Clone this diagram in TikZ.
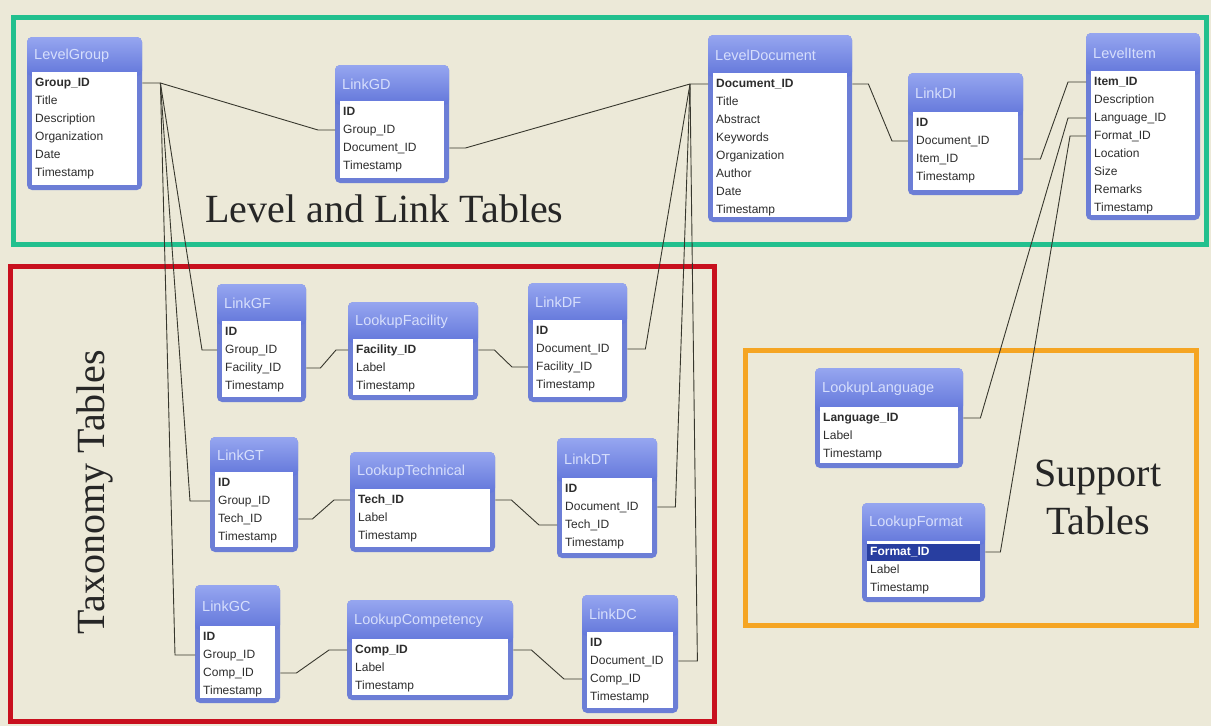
\documentclass[tikz,border=0pt]{standalone}
\usepackage{fontspec}
\setmainfont{Liberation Serif}
\setsansfont{Liberation Sans}
\usetikzlibrary{calc}
\definecolor{bg}{RGB}{236,233,216}
\definecolor{tframe}{RGB}{108,126,214}
\definecolor{htop}{RGB}{150,166,240}
\definecolor{hbot}{RGB}{98,118,218}
\definecolor{ttext}{RGB}{214,222,252}
\definecolor{ftext}{RGB}{45,45,45}
\definecolor{selblue}{RGB}{40,62,160}
\definecolor{grn}{RGB}{34,192,142}
\definecolor{rd}{RGB}{200,16,30}
\definecolor{org}{RGB}{245,165,35}
\definecolor{conn}{RGB}{55,55,45}
\tikzset{
 region/.style={draw, line width=5pt},
 ttitle/.style={anchor=west, inner sep=0pt, text=ttext, font=\sffamily\fontsize{14.5}{16}\selectfont},
 field/.style={anchor=west, inner xsep=8pt, inner ysep=0pt, text height=9pt, text depth=3pt, align=left, text=ftext, font=\sffamily\fontsize{12}{13}\selectfont},
 rel/.style={draw=conn, line width=0.9pt},
 biglabel/.style={font=\rmfamily\fontsize{40}{48}\selectfont, text=black!85, inner sep=0pt},
}
\newcommand\selfield[1]{\textcolor{white}{\textbf{#1}}}
\newcommand\selbar{\fill[selblue] (867,543.5) rectangle (980,560.5);}
% #1 extra code, #2 id, #3 x1, #4 y1, #5 x2, #6 y2, #7 header bottom, #8 title, #9 fields
\newcommand\dbtable[9][]{%
 \fill[tframe, rounded corners=5pt] (#3,#4) rectangle (#5,#6);
 \shade[top color=htop, bottom color=hbot, rounded corners=5pt] (#3,#4) rectangle (#5,#7+4);
 \fill[white] (#3+5,#7) rectangle (#5-5,#6-5);
 #1
 \node[ttitle] (#2) at (#3+7, {(#4+#7)/2+1}) {#8};
 \pgfmathsetmacro\tw{#5-#3-16}
 \foreach \f [count=\i] in {#9} {
   \node[field, text width=\tw pt] (#2-\i) at (#3, #7+11+18*\i-18) {\f};
 }
}
\begin{document}
\begin{tikzpicture}[x=1pt,y=-1pt]
\fill[bg] (0,0) rectangle (1211,726);
\useasboundingbox (0,0) rectangle (1211,726);

% regions
\draw[region, draw=grn] (13,17) rectangle (1206,244);
\draw[region, draw=rd] (10,266) rectangle (714,721);
\draw[region, draw=org] (745,350) rectangle (1196,625);

% tables
\dbtable{LG}{27}{37}{142}{190}{72}{LevelGroup}{\textbf{Group\_ID},Title,Description,Organization,Date,Timestamp}
\dbtable{LGD}{335}{65}{449}{183}{101}{LinkGD}{\textbf{ID},Group\_ID,Document\_ID,Timestamp}
\dbtable{LD}{708}{35}{852}{222}{73}{LevelDocument}{\textbf{Document\_ID},Title,Abstract,Keywords,Organization,Author,Date,Timestamp}
\dbtable{LDI}{908}{73}{1023}{195}{112}{LinkDI}{\textbf{ID},Document\_ID,Item\_ID,Timestamp}
\dbtable{LI}{1086}{33}{1200}{220}{71}{LevelItem}{\textbf{Item\_ID},Description,Language\_ID,Format\_ID,Location,Size,Remarks,Timestamp}

\dbtable{LGF}{217}{284}{306}{402}{321}{LinkGF}{\textbf{ID},Group\_ID,Facility\_ID,Timestamp}
\dbtable{LFa}{348}{302}{478}{400}{339}{LookupFacility}{\textbf{Facility\_ID},Label,Timestamp}
\dbtable{LDF}{528}{283}{627}{402}{320}{LinkDF}{\textbf{ID},Document\_ID,Facility\_ID,Timestamp}

\dbtable{LGT}{210}{437}{298}{552}{472}{LinkGT}{\textbf{ID},Group\_ID,Tech\_ID,Timestamp}
\dbtable{LTe}{350}{452}{495}{552}{489}{LookupTechnical}{\textbf{Tech\_ID},Label,Timestamp}
\dbtable{LDT}{557}{438}{657}{558}{478}{LinkDT}{\textbf{ID},Document\_ID,Tech\_ID,Timestamp}

\dbtable{LGC}{195}{585}{280}{703}{626}{LinkGC}{\textbf{ID},Group\_ID,Comp\_ID,Timestamp}
\dbtable{LCo}{347}{600}{513}{700}{639}{LookupCompetency}{\textbf{Comp\_ID},Label,Timestamp}
\dbtable{LDC}{582}{595}{678}{713}{632}{LinkDC}{\textbf{ID},Document\_ID,Comp\_ID,Timestamp}

\dbtable{LLa}{815}{368}{963}{468}{407}{LookupLanguage}{\textbf{Language\_ID},Label,Timestamp}
\dbtable[\selbar]{LFo}{862}{503}{985}{602}{541}{LookupFormat}{\selfield{Format\_ID},Label,Timestamp}

% connectors
\coordinate (lgs) at ([xshift=18]LG-1.east);
\coordinate (lds) at ([xshift=-18]LD-1.west);
\draw[rel] (LG-1.east) -- (lgs) -- ([xshift=-17]LGD-2.west) -- (LGD-2.west);
\draw[rel] (lgs) -- ([xshift=-15]LGF-2.west) -- (LGF-2.west);
\draw[rel] (lgs) -- ([xshift=-20]LGT-2.west) -- (LGT-2.west);
\draw[rel] (lgs) -- ([xshift=-20]LGC-2.west) -- (LGC-2.west);

\draw[rel] (LGD-3.east) -- ++(16,0) -- (lds) -- (LD-1.west);
\draw[rel] (LDF-2.east) -- ++(18,0) -- (lds);
\draw[rel] (LDT-2.east) -- ++(18,0) -- (lds);
\draw[rel] (LDC-2.east) -- ++(19,0) -- (lds);

\draw[rel] (LD-1.east) -- ++(16,0) -- ([xshift=-16]LDI-2.west) -- (LDI-2.west);
\draw[rel] (LDI-3.east) -- ++(17,0) -- ([xshift=-18]LI-1.west) -- (LI-1.west);
\draw[rel] (LLa-1.east) -- ++(17,0) -- ([xshift=-18]LI-3.west) -- (LI-3.west);
\draw[rel] (LFo-1.east) -- ++(15,0) -- ([xshift=-16]LI-4.west) -- (LI-4.west);

\draw[rel] (LGF-3.east) -- ++(14,0) -- ([xshift=-12]LFa-1.west) -- (LFa-1.west);
\draw[rel] (LFa-1.east) -- ++(16,0) -- ([xshift=-16]LDF-3.west) -- (LDF-3.west);
\draw[rel] (LGT-3.east) -- ++(14,0) -- ([xshift=-16]LTe-1.west) -- (LTe-1.west);
\draw[rel] (LTe-1.east) -- ++(16,0) -- ([xshift=-18]LDT-3.west) -- (LDT-3.west);
\draw[rel] (LGC-3.east) -- ++(16,0) -- ([xshift=-18]LCo-1.west) -- (LCo-1.west);
\draw[rel] (LCo-1.east) -- ++(18,0) -- ([xshift=-18]LDC-3.west) -- (LDC-3.west);

% labels
\node[biglabel, anchor=base west] (lbl1) at (205,222) {Level and Link Tables};
\node[biglabel, rotate=90] (lbl2) at (95,492) {Taxonomy Tables};
\node[biglabel, align=center] (lbl3) at (1098,497) {Support\\Tables};
\end{tikzpicture}
\end{document}
